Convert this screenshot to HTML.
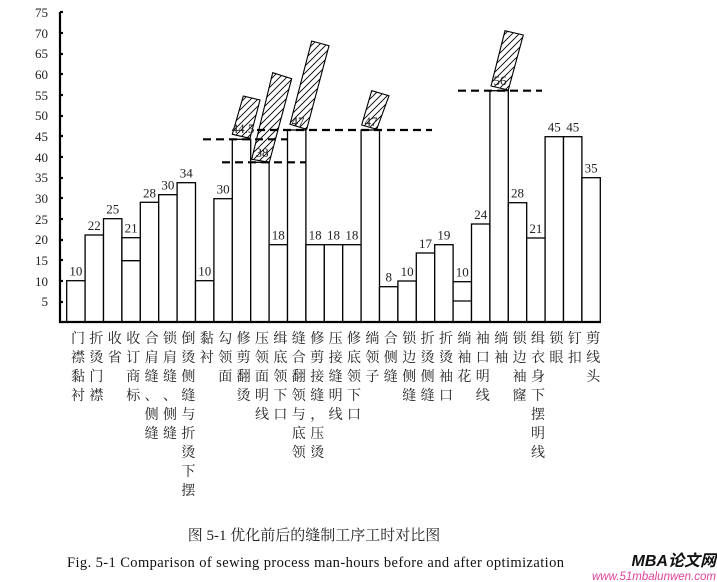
<!DOCTYPE html>
<html><head><meta charset="utf-8"><style>
body{margin:0;background:#fff;}
#c{position:relative;width:717px;height:582px;overflow:hidden;font-family:"Liberation Serif","Noto Serif CJK SC",serif;}
.col{position:absolute;top:330px;width:16px;font-size:14px;line-height:19px;color:#222;font-family:"Liberation Serif","Noto Serif CJK SC","Noto Sans CJK SC",serif;text-align:center;}
</style></head><body><div id="c">
<svg width="717" height="582" style="position:absolute;left:0;top:0">
<defs><pattern id="h" patternUnits="userSpaceOnUse" width="7" height="7"><path d="M-1,8 L8,-1 M-4,4 L4,-4 M3,11 L11,3" stroke="#000" stroke-width="0.9"/></pattern></defs>
<g font-size="13" fill="#222" text-anchor="end" font-family="Liberation Serif,serif">
<text x="48" y="17">75</text><text x="48" y="38">70</text><text x="48" y="58">65</text><text x="48" y="79">60</text><text x="48" y="100">55</text><text x="48" y="120">50</text><text x="48" y="141">45</text><text x="48" y="162">40</text><text x="48" y="182">35</text><text x="48" y="203">30</text><text x="48" y="224">25</text><text x="48" y="244">20</text><text x="48" y="265">15</text><text x="48" y="286">10</text><text x="48" y="306">5</text>
</g>
<g stroke="#000" stroke-width="1.3" fill="#fff">
<rect x="66.7" y="280.7" width="18.4" height="41.3"/>
<rect x="85.1" y="235" width="18.4" height="87"/>
<rect x="103.5" y="218.7" width="18.4" height="103.3"/>
<rect x="121.9" y="237.7" width="18.4" height="84.3"/>
<rect x="140.3" y="202.3" width="18.4" height="119.7"/>
<rect x="158.7" y="194.7" width="18.4" height="127.3"/>
<rect x="177.1" y="182.7" width="18.4" height="139.3"/>
<rect x="195.5" y="280.7" width="18.4" height="41.3"/>
<rect x="213.9" y="198.7" width="18.4" height="123.3"/>
<rect x="232.3" y="139.3" width="18.4" height="182.7"/>
<rect x="250.7" y="162.3" width="18.4" height="159.7"/>
<rect x="269.1" y="244.7" width="18.4" height="77.3"/>
<rect x="287.5" y="130" width="18.4" height="192"/>
<rect x="305.9" y="244.7" width="18.4" height="77.3"/>
<rect x="324.3" y="244.7" width="18.4" height="77.3"/>
<rect x="342.7" y="244.7" width="18.4" height="77.3"/>
<rect x="361.1" y="130" width="18.4" height="192"/>
<rect x="379.5" y="286.7" width="18.4" height="35.3"/>
<rect x="397.9" y="281" width="18.4" height="41"/>
<rect x="416.3" y="253" width="18.4" height="69"/>
<rect x="434.7" y="244.7" width="18.4" height="77.3"/>
<rect x="453.1" y="281.7" width="18.4" height="40.3"/>
<rect x="471.5" y="224" width="18.4" height="98"/>
<rect x="489.9" y="90.7" width="18.4" height="231.3"/>
<rect x="508.3" y="202.7" width="18.4" height="119.3"/>
<rect x="526.7" y="238" width="18.4" height="84"/>
<rect x="545.1" y="136.7" width="18.4" height="185.3"/>
<rect x="563.5" y="136.7" width="18.4" height="185.3"/>
<rect x="581.9" y="177.7" width="18.4" height="144.3"/>
<line x1="121.9" y1="260.7" x2="140.3" y2="260.7"/>
<line x1="453.1" y1="301" x2="471.5" y2="301"/>
</g>
<g stroke="#000" stroke-width="2.2" stroke-dasharray="8,5" fill="none">
<line x1="203" y1="139.3" x2="287" y2="139.3"/>
<line x1="222" y1="162.3" x2="306" y2="162.3"/>
<line x1="257" y1="130" x2="432" y2="130"/>
<line x1="458" y1="90.7" x2="542" y2="90.7"/>
</g>
<g stroke="#000" stroke-width="1.1" fill="url(#h)">
<polygon points="243.3,96 260,100 250,138.3 232.3,134.3"/>
<polygon points="272.7,72.7 291.7,78.7 269.3,162.3 251.7,159.3"/>
<polygon points="311.7,41 329,45.7 306.7,129.3 290,124.3"/>
<polygon points="371.7,90.7 389,95.7 376.7,129.3 361.7,125"/>
<polygon points="505,30.7 523.3,35 508.3,90 491,86"/>
</g>
<g stroke="#000" stroke-width="2.2">
<line x1="60" y1="12" x2="60" y2="323"/>
<line x1="59" y1="322" x2="601" y2="322"/>
<line x1="60" y1="12" x2="63" y2="12"/><line x1="60" y1="33" x2="63" y2="33"/><line x1="60" y1="54" x2="63" y2="54"/><line x1="60" y1="74" x2="63" y2="74"/><line x1="60" y1="95" x2="63" y2="95"/><line x1="60" y1="116" x2="63" y2="116"/><line x1="60" y1="136" x2="63" y2="136"/><line x1="60" y1="157" x2="63" y2="157"/><line x1="60" y1="178" x2="63" y2="178"/><line x1="60" y1="198" x2="63" y2="198"/><line x1="60" y1="219" x2="63" y2="219"/><line x1="60" y1="240" x2="63" y2="240"/><line x1="60" y1="260" x2="63" y2="260"/><line x1="60" y1="281" x2="63" y2="281"/><line x1="60" y1="302" x2="63" y2="302"/>
</g>
<g font-size="13" fill="#222" text-anchor="middle" font-family="Liberation Serif,serif">
<text x="75.9" y="275.7">10</text><text x="94.3" y="230">22</text><text x="112.7" y="213.7">25</text><text x="131.1" y="232.7">21</text><text x="149.5" y="197.3">28</text><text x="167.9" y="189.7">30</text><text x="186.3" y="177.7">34</text><text x="204.7" y="275.7">10</text><text x="223.1" y="193.7">30</text>
<text x="243" y="133">44.5</text><text x="262" y="157">38</text><text x="278.3" y="239.7">18</text><text x="298" y="126">47</text>
<text x="315.1" y="239.7">18</text><text x="333.5" y="239.7">18</text><text x="351.9" y="239.7">18</text><text x="371" y="126">47</text>
<text x="388.7" y="281.7">8</text><text x="407.1" y="276">10</text><text x="425.5" y="248">17</text><text x="443.9" y="239.7">19</text><text x="462.3" y="276.7">10</text><text x="480.7" y="219">24</text><text x="500" y="85">56</text><text x="517.5" y="197.7">28</text><text x="535.9" y="233">21</text><text x="554.3" y="131.7">45</text><text x="572.7" y="131.7">45</text><text x="591.1" y="172.7">35</text>
</g>
<text x="314" y="540" font-size="15" fill="#222" text-anchor="middle" font-family="Liberation Serif,Noto Serif CJK SC,serif">图 5-1 优化前后的缝制工序工时对比图</text>
<text x="67" y="567" font-size="14.5" fill="#111" font-family="Liberation Serif,serif" textLength="497">Fig. 5-1 Comparison of sewing process man-hours before and after optimization</text>
<text x="716" y="566" font-size="16" font-weight="bold" font-style="italic" fill="#111" text-anchor="end" font-family="Liberation Sans,Noto Sans CJK SC,sans-serif">MBA论文网</text>
<text x="716" y="580" font-size="11.5" font-style="italic" fill="#e0409a" text-anchor="end" font-family="Liberation Sans,sans-serif">www.51mbalunwen.com</text>
</svg>
<div class="col" style="left:70px">门<br>襟<br>黏<br>衬</div>
<div class="col" style="left:88.4px">折<br>烫<br>门<br>襟</div>
<div class="col" style="left:106.8px">收<br>省</div>
<div class="col" style="left:125.2px">收<br>订<br>商<br>标</div>
<div class="col" style="left:143.6px">合<br>肩<br>缝<br>、<br>侧<br>缝</div>
<div class="col" style="left:162px">锁<br>肩<br>缝<br>、<br>侧<br>缝</div>
<div class="col" style="left:180.4px">倒<br>烫<br>侧<br>缝<br>与<br>折<br>烫<br>下<br>摆</div>
<div class="col" style="left:198.8px">黏<br>衬</div>
<div class="col" style="left:217.2px">勾<br>领<br>面</div>
<div class="col" style="left:235.6px">修<br>剪<br>翻<br>烫</div>
<div class="col" style="left:254px">压<br>领<br>面<br>明<br>线</div>
<div class="col" style="left:272.4px">缉<br>底<br>领<br>下<br>口</div>
<div class="col" style="left:290.8px">缝<br>合<br>翻<br>领<br>与<br>底<br>领</div>
<div class="col" style="left:309.2px">修<br>剪<br>接<br>缝<br>，<br>压<br>烫</div>
<div class="col" style="left:327.6px">压<br>接<br>缝<br>明<br>线</div>
<div class="col" style="left:346px">修<br>底<br>领<br>下<br>口</div>
<div class="col" style="left:364.4px">绱<br>领<br>子</div>
<div class="col" style="left:382.8px">合<br>侧<br>缝</div>
<div class="col" style="left:401.2px">锁<br>边<br>侧<br>缝</div>
<div class="col" style="left:419.6px">折<br>烫<br>侧<br>缝</div>
<div class="col" style="left:438px">折<br>烫<br>袖<br>口</div>
<div class="col" style="left:456.4px">绱<br>袖<br>花</div>
<div class="col" style="left:474.8px">袖<br>口<br>明<br>线</div>
<div class="col" style="left:493.2px">绱<br>袖</div>
<div class="col" style="left:511.6px">锁<br>边<br>袖<br>窿</div>
<div class="col" style="left:530px">缉<br>衣<br>身<br>下<br>摆<br>明<br>线</div>
<div class="col" style="left:548.4px">锁<br>眼</div>
<div class="col" style="left:566.8px">钉<br>扣</div>
<div class="col" style="left:585.2px">剪<br>线<br>头</div>
</div></body></html>
